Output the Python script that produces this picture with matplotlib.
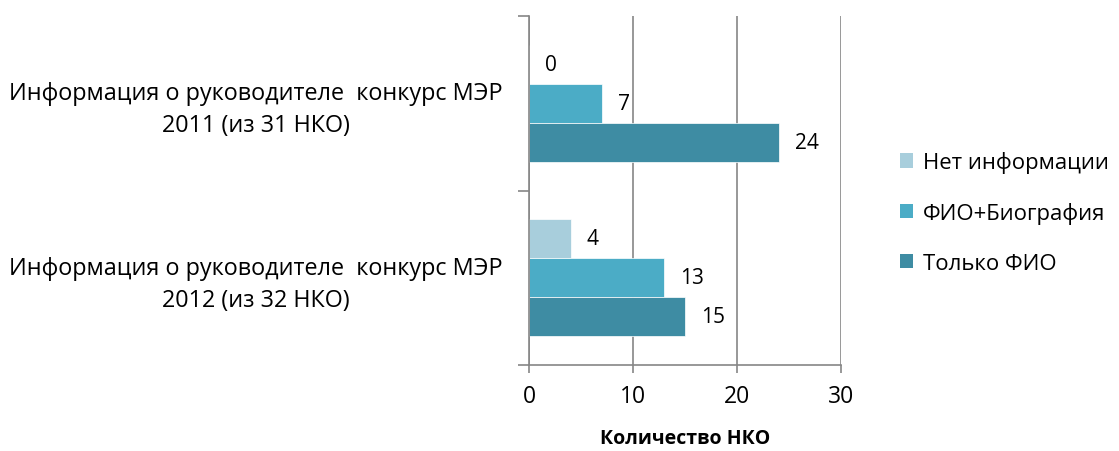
import matplotlib.pyplot as plt
from matplotlib.patches import Patch

plt.rcParams['font.family'] = ['Open Sans', 'DejaVu Sans']

categories = ['Информация о руководителе  конкурс МЭР\n2012 (из 32 НКО)',
              'Информация о руководителе  конкурс МЭР\n2011 (из 31 НКО)']
series = ['Нет информации', 'ФИО+Биография', 'Только ФИО']
net_info = [4, 0]
fio_bio = [13, 7]
only_fio = [15, 24]
colors = ['#A8CEDC', '#4BACC6', '#3E8CA3']

fig = plt.figure(figsize=(11.19, 4.52), dpi=100)
ax = fig.add_axes([0.4727, 0.1903, 0.2788, 0.772])

h = 0.223
y = [0, 1]
values = [net_info, fio_bio, only_fio]
offsets = [h, 0, -h]
for vals, off, c in zip(values, offsets, colors):
    pos = [yy + off for yy in y]
    ax.barh(pos, vals, height=h, color=c, edgecolor='white', linewidth=0.5, zorder=3)
    for p, v in zip(pos, vals):
        ax.text(v + 1.55, p, str(v), va='center', ha='left', fontsize=15)

ax.set_xlim(0, 30)
ax.set_ylim(-0.5, 1.5)
ax.set_xticks([0, 10, 20, 30])
ax.tick_params(axis='x', labelsize=16.5, length=6, width=1.2, color='#868686', pad=8)
ax.set_yticks(y)
ax.set_yticklabels([])
ax.tick_params(axis='y', which='major', length=0)
for yy, lab in zip(y, categories):
    ax.text(-0.875, yy - 0.035, lab, transform=ax.get_yaxis_transform(),
            ha='center', va='center', fontsize=16.8, linespacing=1.45)
ax.set_yticks([-0.5, 0.5, 1.5], minor=True)
ax.tick_params(axis='y', which='minor', length=8, width=1.2, color='#868686')
ax.grid(axis='x', color='#868686', linewidth=1.2, zorder=0)
for s in ['top', 'right']:
    ax.spines[s].set_visible(False)
for s in ['left', 'bottom']:
    ax.spines[s].set_color('#868686')
    ax.spines[s].set_linewidth(1.2)
    ax.spines[s].set_zorder(4)
ax.set_xlabel('Количество НКО', fontsize=14, fontweight='bold', labelpad=14)

handles = [Patch(facecolor=c, edgecolor='none') for c in colors]
fig.legend(handles, series, loc='center left', bbox_to_anchor=(0.796, 0.528),
           frameon=False, fontsize=15.9, handlelength=0.63, handleheight=0.63,
           handletextpad=0.42, labelspacing=1.3, borderaxespad=0)

fig.savefig('out.png', dpi=100)
